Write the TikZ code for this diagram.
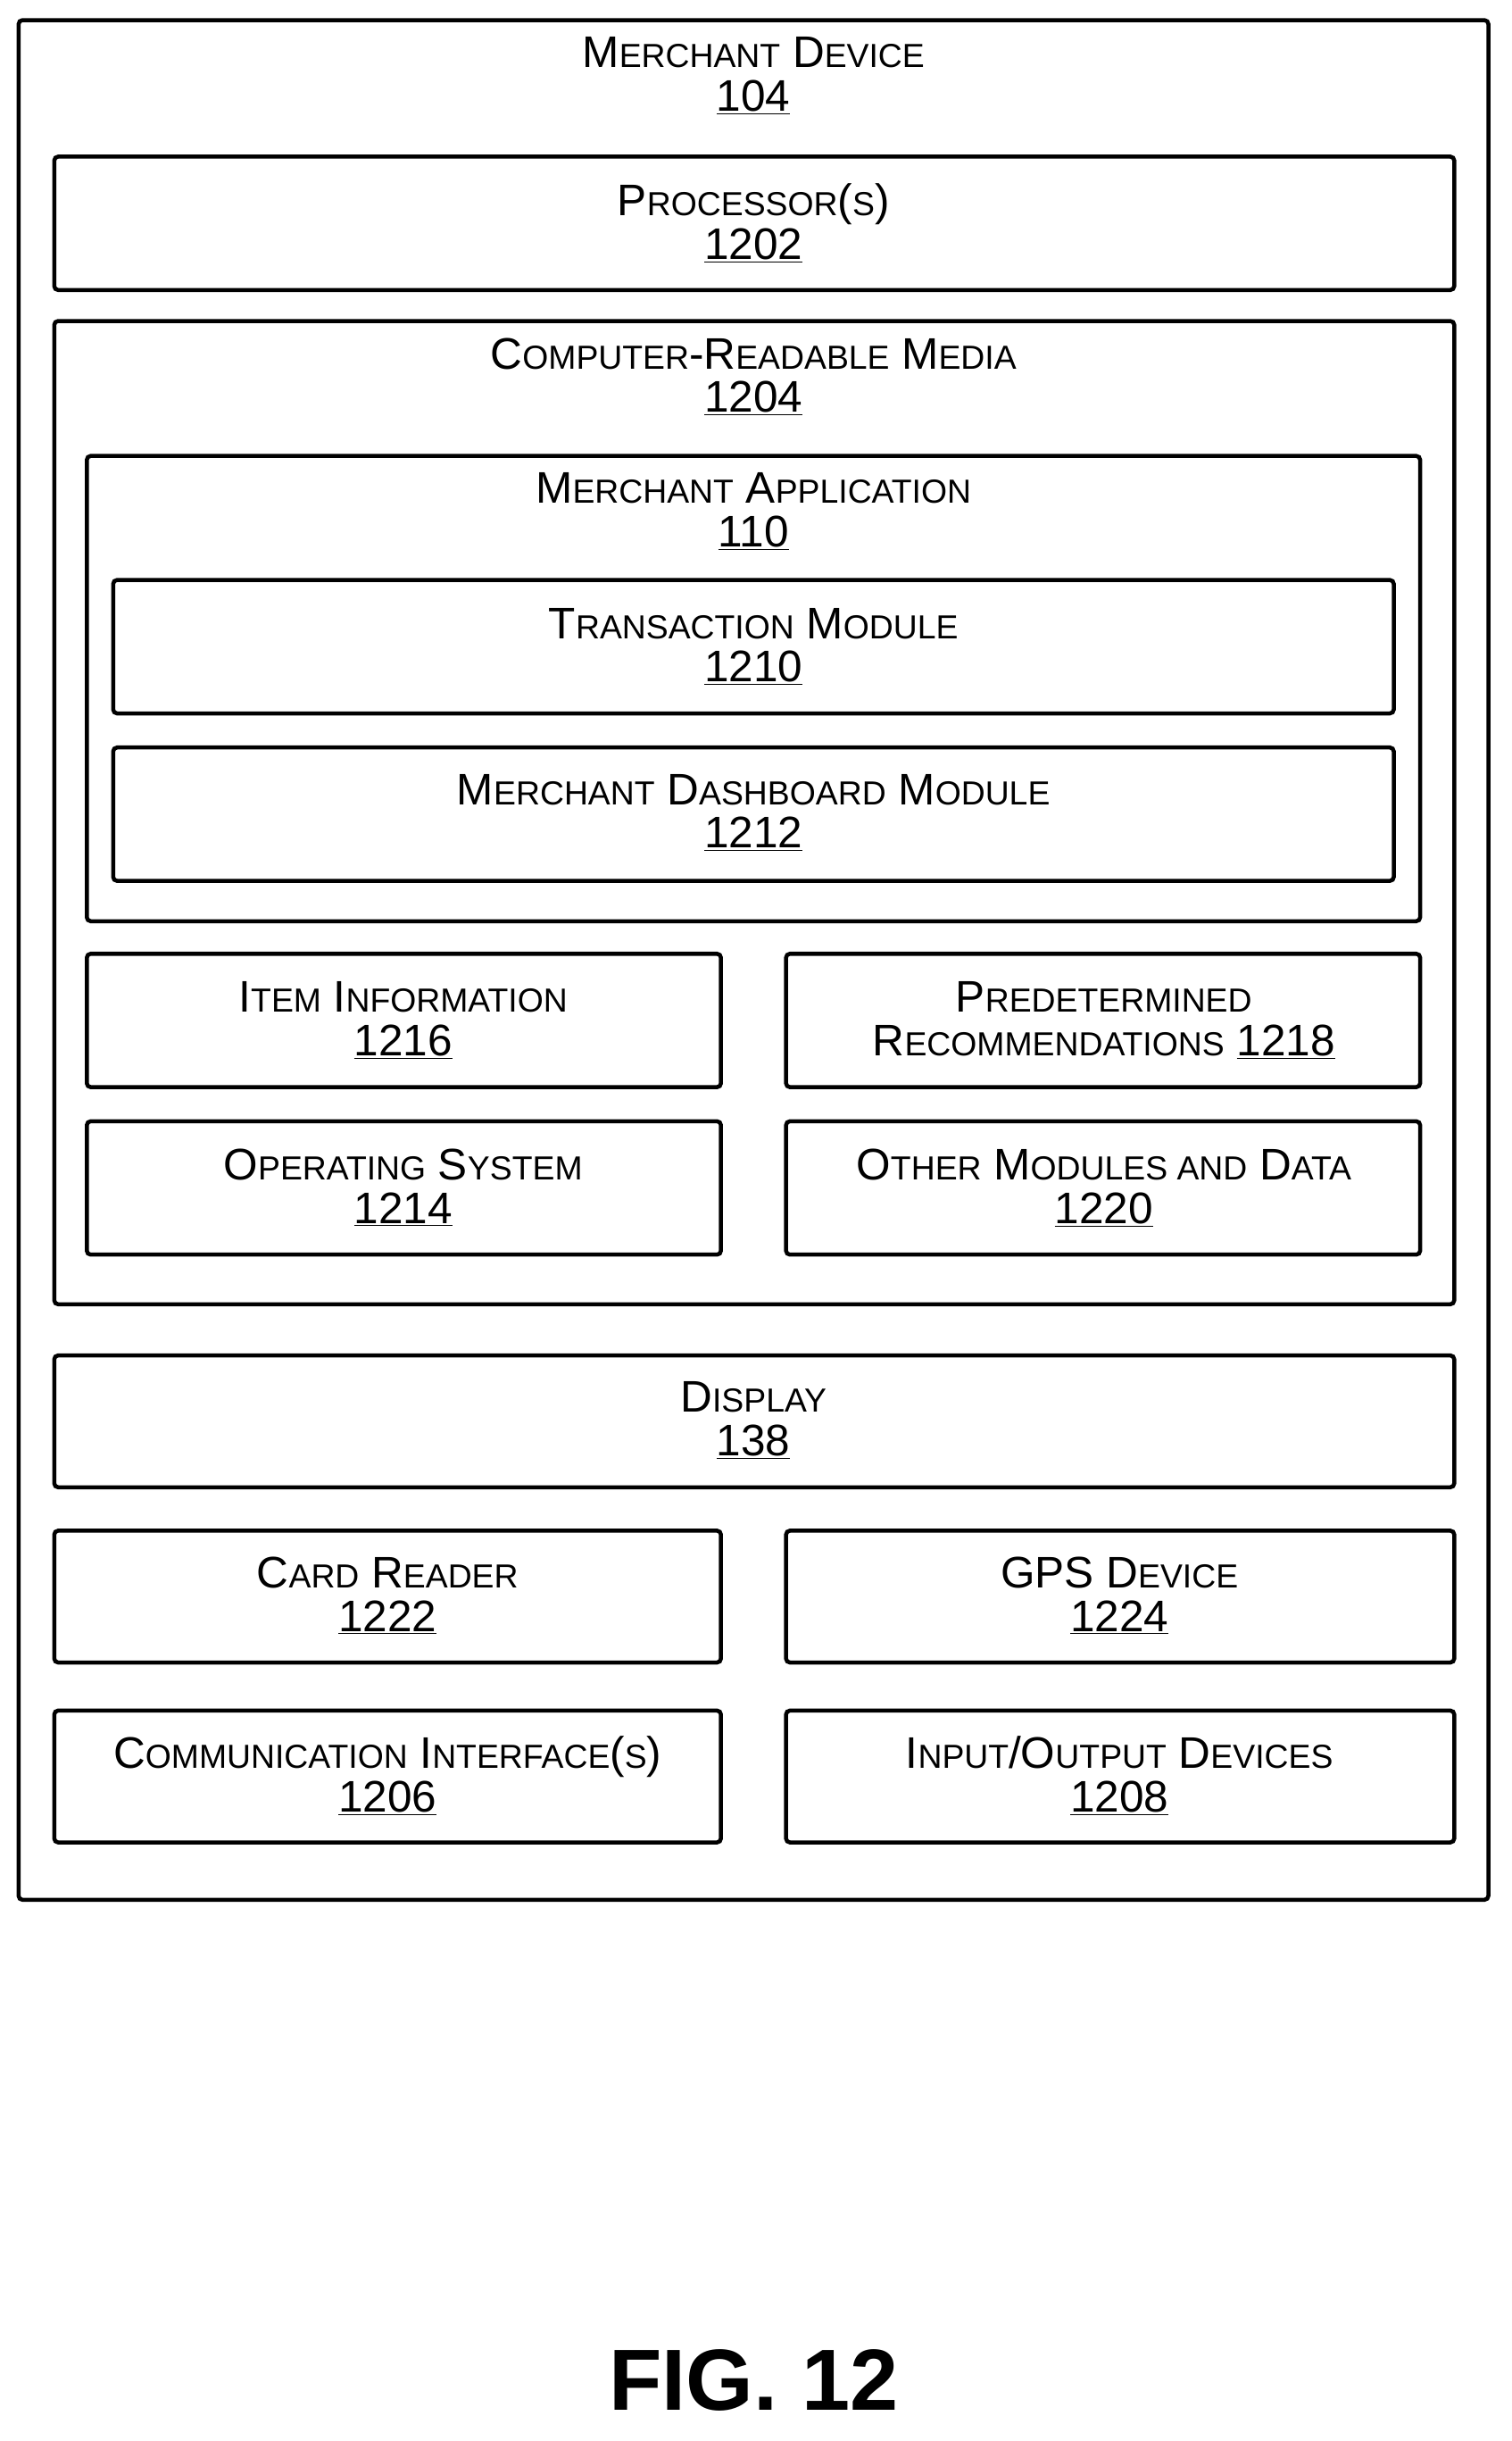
\documentclass[tikz,border=0pt]{standalone}
\usepackage{fontspec}
\setmainfont{Liberation Sans}
\newcommand{\sm}[1]{{\fontsize{21.5}{21.5}\selectfont #1}}
\newcommand{\ul}[1]{\underline{#1}}
\begin{document}
\begin{tikzpicture}[x=1pt,y=-1pt,
  box/.style={draw,line width=2.6pt,rounded corners=2.5pt},
  lbl/.style={align=center,font=\fontsize{28.5}{28}\selectfont,inner sep=0pt}]
\useasboundingbox (0,0) rectangle (975,1574);
\draw[box] (12,13) rectangle (960,1225);
\node[lbl] (t104) at (486,49) {M\sm{ERCHANT} D\sm{EVICE}\\\ul{104}};
\draw[box] (35,101) rectangle (938,187);
\node[lbl] (t1202) at (486,144) {P\sm{ROCESSOR}(\sm{S})\\\ul{1202}};
\draw[box] (35,207) rectangle (938,841);
\node[lbl] (t1204) at (486,243) {C\sm{OMPUTER}-R\sm{EADABLE} M\sm{EDIA}\\\ul{1204}};
\draw[box] (56,294) rectangle (916,594);
\node[lbl] (t110) at (486,330) {M\sm{ERCHANT} A\sm{PPLICATION}\\\ul{110}};
\draw[box] (73,374) rectangle (899,460);
\node[lbl] (t1210) at (486,417) {T\sm{RANSACTION} M\sm{ODULE}\\\ul{1210}};
\draw[box] (73,482) rectangle (899,568);
\node[lbl] (t1212) at (486,524) {M\sm{ERCHANT} D\sm{ASHBOARD} M\sm{ODULE}\\\ul{1212}};
\draw[box] (56,615) rectangle (465,701);
\node[lbl] (t1216) at (260,658) {I\sm{TEM} I\sm{NFORMATION}\\\ul{1216}};
\draw[box] (507,615) rectangle (916,701);
\node[lbl] (t1218) at (712,658) {P\sm{REDETERMINED}\\R\sm{ECOMMENDATIONS} \ul{1218}};
\draw[box] (56,723) rectangle (465,809);
\node[lbl] (t1214) at (260,766) {O\sm{PERATING} S\sm{YSTEM}\\\ul{1214}};
\draw[box] (507,723) rectangle (916,809);
\node[lbl] (t1220) at (712,766) {O\sm{THER} M\sm{ODULES AND} D\sm{ATA}\\\ul{1220}};
\draw[box] (35,874) rectangle (938,959);
\node[lbl] (t138) at (486,916) {D\sm{ISPLAY}\\\ul{138}};
\draw[box] (35,987) rectangle (465,1072);
\node[lbl] (t1222) at (250,1029) {C\sm{ARD} R\sm{EADER}\\\ul{1222}};
\draw[box] (507,987) rectangle (938,1072);
\node[lbl] (t1224) at (722,1029) {GPS D\sm{EVICE}\\\ul{1224}};
\draw[box] (35,1103) rectangle (465,1188);
\node[lbl] (t1206) at (250,1145) {C\sm{OMMUNICATION} I\sm{NTERFACE}(\sm{S})\\\ul{1206}};
\draw[box] (507,1103) rectangle (938,1188);
\node[lbl] (t1208) at (722,1145) {I\sm{NPUT}/O\sm{UTPUT} D\sm{EVICES}\\\ul{1208}};
\node[font=\fontsize{56}{56}\selectfont\bfseries,inner sep=0pt] (fig) at (486,1535) {FIG. 12};
\end{tikzpicture}
\end{document}
